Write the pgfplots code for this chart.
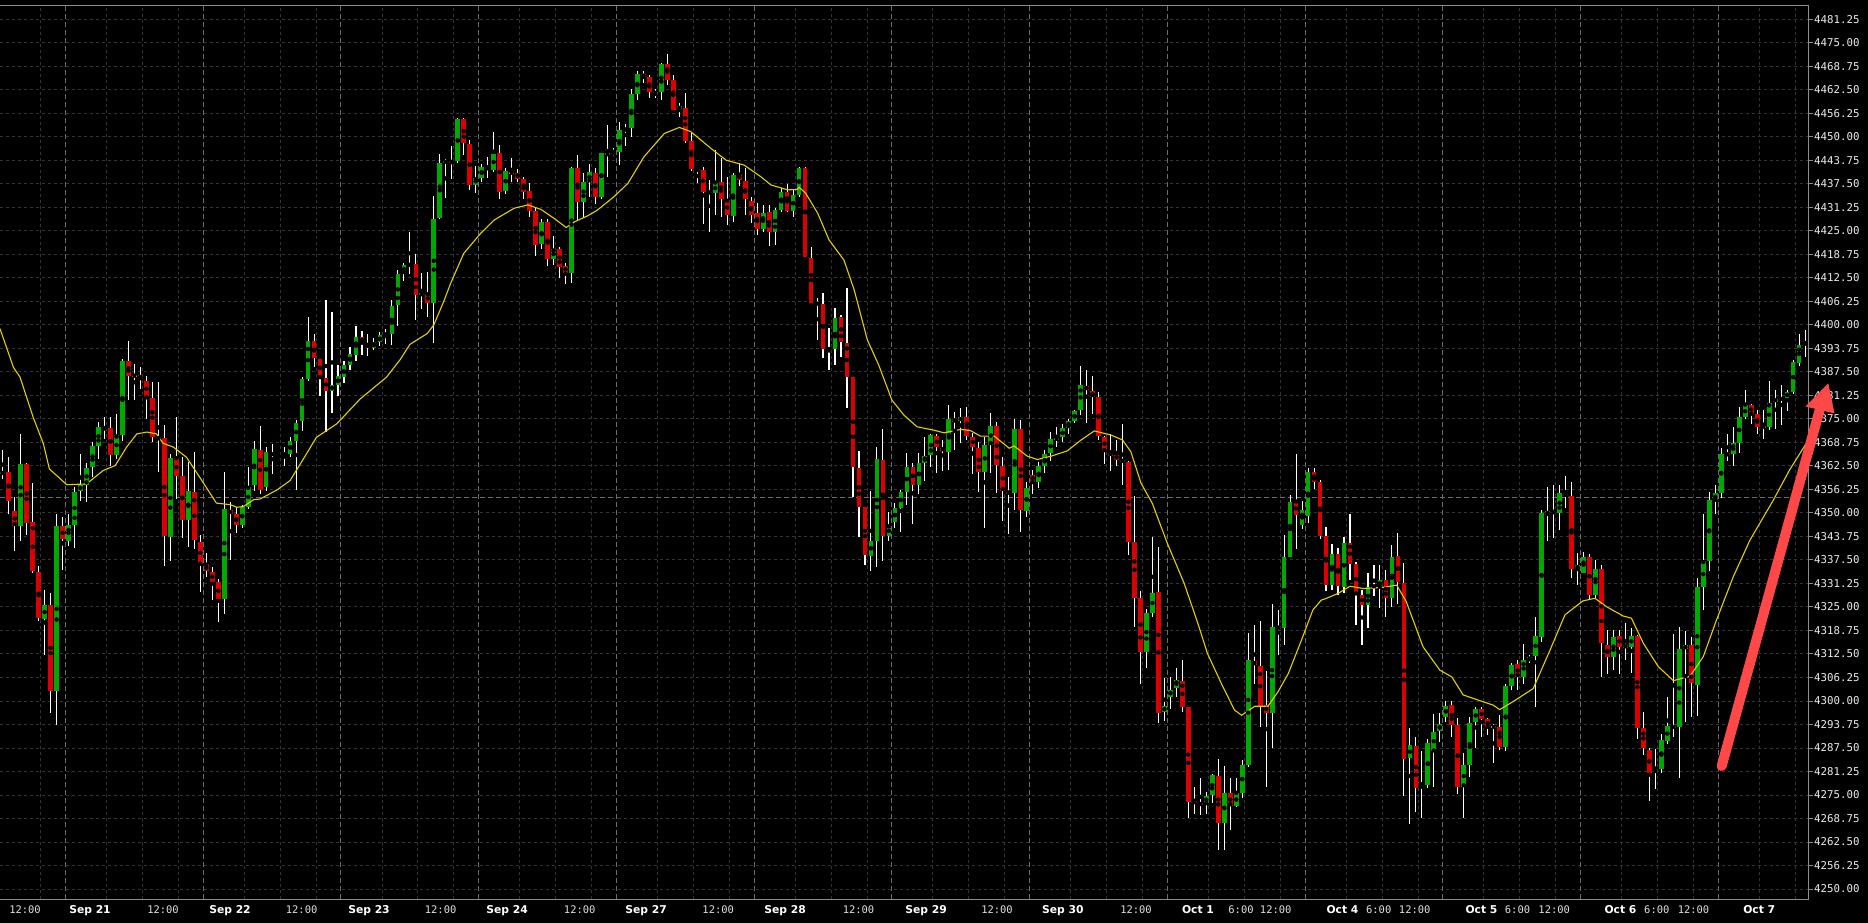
\documentclass[border=0pt]{standalone}
\usepackage{fontspec}
\setmainfont{DejaVu Sans}
\newfontfamily\monofont{DejaVu Sans Mono}
\usepackage{pgfplots}
\usepackage{pgfplotstable}
\pgfplotsset{compat=1.18}
\pgfdeclarelayer{bg}
\pgfsetlayers{bg,main}
\definecolor{upgreen}{RGB}{0,168,0}
\definecolor{downred}{RGB}{218,0,0}
\definecolor{dojiyellow}{RGB}{255,255,0}
\definecolor{maline}{RGB}{228,208,0}
\definecolor{gridd}{RGB}{52,52,52}
\definecolor{gridb}{RGB}{108,108,108}
\definecolor{framec}{RGB}{140,140,140}
\definecolor{labelc}{RGB}{236,236,236}
\definecolor{arrowred}{RGB}{255,72,72}

\pgfplotstableread{
i o h l c
0 4360.3 4366.8 4358.9 4361.0
1 4361.0 4364.8 4349.7 4353.1
2 4350.4 4354.3 4339.8 4346.6
3 4346.6 4371.0 4342.6 4362.9
4 4363.0 4363.4 4344.0 4347.3
5 4347.5 4357.9 4334.0 4334.5
6 4334.2 4335.8 4321.2 4322.0
7 4321.8 4329.5 4312.2 4325.5
8 4325.6 4328.7 4296.8 4302.6
9 4302.6 4349.7 4293.6 4346.4
10 4346.4 4349.0 4334.8 4343.0
11 4342.5 4349.6 4341.3 4346.9
12 4346.9 4356.8 4340.6 4355.7
13 4355.9 4365.7 4353.1 4357.4
14 4357.5 4363.3 4353.0 4361.9
15 4362.1 4368.8 4359.5 4367.9
16 4367.9 4374.1 4364.4 4372.8
17 4372.3 4375.4 4369.7 4372.7
18 4372.6 4375.4 4362.6 4365.5
19 4365.5 4376.2 4364.4 4370.6
20 4370.6 4391.0 4369.1 4390.5
21 4390.5 4395.7 4379.9 4386.5
22 4386.5 4389.6 4379.9 4386.5
23 4386.8 4388.7 4383.0 4385.5
24 4385.2 4386.5 4375.0 4380.8
25 4380.6 4384.7 4368.8 4370.1
26 4370.1 4384.7 4360.8 4369.6
27 4369.9 4373.5 4336.0 4343.8
28 4343.5 4365.7 4337.1 4364.5
29 4364.5 4375.4 4353.7 4359.8
30 4359.7 4364.8 4343.3 4348.1
31 4348.1 4363.5 4340.9 4355.7
32 4355.7 4366.3 4340.4 4342.8
33 4342.4 4344.1 4328.9 4336.4
34 4336.3 4339.4 4333.1 4334.5
35 4334.4 4335.5 4326.9 4331.6
36 4331.6 4332.4 4320.9 4327.0
37 4327.0 4360.8 4323.1 4351.1
38 4350.8 4352.8 4337.5 4349.7
39 4349.7 4351.5 4344.6 4346.9
40 4346.9 4352.2 4346.0 4351.5
41 4351.5 4362.3 4351.1 4357.0
42 4357.3 4369.2 4355.9 4367.0
43 4366.8 4373.0 4355.1 4356.2
44 4356.8 4367.5 4355.9 4366.3
45 4366.0 4368.2 4360.4 4365.3
46 4365.3 4366.0 4365.0 4365.6
47 4365.6 4367.5 4362.4 4365.6
48 4365.7 4370.1 4365.0 4369.0
49 4369.0 4374.7 4356.1 4374.0
50 4374.4 4386.1 4371.9 4385.6
51 4385.6 4402.0 4385.2 4395.6
52 4395.6 4397.6 4388.7 4391.2
53 4391.0 4391.0 4381.2 4386.1
54 4385.9 4406.6 4371.5 4382.4
55 4382.4 4403.5 4376.5 4384.1
56 4383.9 4389.2 4381.2 4386.3
57 4386.1 4390.5 4384.5 4389.2
58 4389.2 4394.0 4388.0 4392.3
59 4392.0 4399.8 4390.3 4396.9
60 4396.9 4398.5 4392.0 4395.1
61 4395.1 4397.6 4391.8 4393.8
62 4393.8 4396.5 4393.3 4395.4
63 4395.4 4398.0 4394.5 4397.2
64 4397.2 4399.0 4395.0 4397.7
65 4397.7 4406.6 4394.6 4405.0
66 4405.4 4414.6 4399.7 4413.5
67 4413.7 4416.4 4411.7 4415.9
68 4415.7 4424.6 4413.5 4416.2
69 4416.2 4418.8 4401.3 4408.0
70 4407.9 4413.9 4404.2 4408.4
71 4408.2 4414.1 4402.2 4405.9
72 4405.9 4434.3 4395.1 4428.2
73 4428.5 4445.4 4428.1 4443.0
74 4443.1 4444.1 4433.8 4443.6
75 4443.6 4447.7 4438.8 4443.1
76 4443.6 4454.9 4443.1 4454.7
77 4454.7 4454.9 4445.2 4448.3
78 4448.1 4449.2 4435.9 4437.2
79 4437.3 4442.3 4435.2 4439.1
80 4439.1 4442.8 4438.1 4442.1
81 4441.9 4444.7 4439.1 4441.4
82 4441.2 4451.4 4440.7 4445.4
83 4445.8 4447.8 4433.5 4435.4
84 4435.6 4441.6 4434.8 4440.9
85 4440.5 4444.3 4438.1 4440.5
86 4440.5 4441.4 4438.1 4438.8
87 4438.7 4439.2 4433.5 4435.4
88 4435.6 4437.6 4428.8 4430.3
89 4430.3 4431.0 4418.3 4421.2
90 4421.5 4428.1 4420.1 4427.3
91 4427.3 4428.1 4415.7 4417.5
92 4417.4 4423.6 4415.9 4420.3
93 4420.3 4420.8 4412.6 4415.5
94 4415.6 4416.4 4410.8 4413.9
95 4413.7 4442.1 4411.2 4441.8
96 4441.8 4445.2 4427.9 4432.8
97 4432.8 4440.3 4428.3 4438.0
98 4438.0 4442.9 4434.1 4440.6
99 4440.3 4441.6 4432.1 4433.9
100 4433.9 4445.6 4433.6 4445.6
101 4445.4 4453.1 4439.4 4445.4
102 4445.4 4447.1 4444.9 4445.8
103 4446.0 4454.0 4442.5 4451.8
104 4451.8 4453.4 4447.6 4452.1
105 4452.4 4462.6 4450.0 4461.4
106 4461.4 4467.6 4459.8 4466.7
107 4466.7 4467.6 4464.2 4465.8
108 4465.8 4466.4 4460.4 4462.0
109 4461.7 4462.6 4460.2 4461.7
110 4462.0 4469.6 4459.8 4469.4
111 4469.5 4472.0 4463.8 4465.1
112 4465.1 4466.4 4457.1 4457.1
113 4457.1 4458.9 4455.4 4458.3
114 4457.8 4461.7 4448.3 4448.9
115 4448.9 4450.9 4441.0 4441.4
116 4441.4 4441.6 4437.6 4441.0
117 4441.2 4442.1 4426.8 4435.4
118 4435.4 4438.5 4424.8 4435.0
119 4435.1 4446.5 4429.2 4437.6
120 4437.9 4444.5 4428.8 4433.5
121 4433.2 4439.4 4426.6 4429.2
122 4429.0 4440.3 4427.3 4439.8
123 4440.1 4443.0 4436.9 4438.5
124 4438.2 4441.6 4429.2 4433.4
125 4432.9 4434.1 4427.2 4429.2
126 4429.8 4432.5 4423.9 4425.5
127 4425.5 4431.9 4424.8 4429.8
128 4429.9 4431.9 4421.0 4424.8
129 4424.8 4431.0 4421.2 4430.5
130 4430.5 4436.5 4430.1 4435.2
131 4435.4 4437.4 4429.9 4430.3
132 4430.3 4435.9 4428.8 4434.5
133 4434.5 4442.1 4434.1 4441.8
134 4441.8 4442.1 4418.1 4418.1
135 4417.9 4420.8 4405.7 4405.9
136 4405.9 4407.1 4395.9 4405.4
137 4405.5 4408.4 4391.1 4393.5
138 4392.9 4399.1 4388.1 4393.5
139 4393.5 4404.6 4389.3 4401.7
140 4402.1 4402.6 4391.5 4395.5
141 4395.1 4409.7 4377.8 4386.2
142 4386.2 4386.2 4354.3 4362.3
143 4362.0 4366.5 4343.7 4351.6
144 4351.6 4351.6 4336.1 4338.8
145 4338.6 4355.9 4334.6 4342.6
146 4342.6 4367.6 4335.5 4364.3
147 4364.1 4372.3 4337.3 4343.9
148 4343.9 4350.3 4342.6 4346.5
149 4347.7 4352.7 4346.1 4351.2
150 4351.4 4356.1 4345.0 4355.5
151 4355.6 4366.0 4352.1 4362.3
152 4362.3 4363.4 4347.0 4357.4
153 4357.4 4365.8 4355.0 4363.2
154 4363.2 4370.3 4358.6 4365.1
155 4365.4 4371.0 4362.2 4370.7
156 4370.4 4371.1 4360.7 4367.4
157 4367.4 4369.4 4361.2 4366.5
158 4366.3 4378.7 4361.4 4375.1
159 4374.9 4376.9 4366.7 4374.3
160 4374.5 4377.8 4368.7 4375.4
161 4375.4 4378.1 4369.4 4370.4
162 4370.1 4371.3 4360.3 4367.6
163 4367.4 4368.9 4355.6 4360.9
164 4360.9 4370.3 4345.9 4368.1
165 4368.1 4376.5 4360.7 4373.1
166 4373.1 4374.3 4355.4 4362.7
167 4362.5 4364.9 4347.9 4355.9
168 4355.6 4359.5 4344.4 4355.2
169 4355.2 4374.9 4350.8 4372.2
170 4372.2 4374.7 4345.0 4350.9
171 4350.6 4358.3 4349.0 4356.5
172 4360.1 4361.4 4355.0 4358.3
173 4358.3 4363.6 4356.5 4362.5
174 4362.4 4366.7 4360.7 4365.8
175 4366.0 4371.6 4363.9 4369.6
176 4369.7 4372.9 4367.6 4369.7
177 4370.1 4373.6 4368.9 4372.5
178 4372.7 4375.1 4371.1 4374.5
179 4374.5 4377.5 4373.8 4377.1
180 4377.4 4389.1 4376.0 4384.0
181 4383.7 4388.0 4373.8 4382.7
182 4382.4 4386.4 4376.3 4380.7
183 4380.7 4382.2 4369.4 4370.4
184 4370.3 4370.4 4363.0 4366.5
185 4366.3 4371.0 4361.2 4365.1
186 4365.4 4369.4 4362.5 4364.1
187 4363.6 4373.6 4357.4 4364.1
188 4363.6 4363.9 4338.8 4342.3
189 4342.3 4354.5 4319.7 4327.5
190 4327.5 4329.3 4304.5 4313.1
191 4313.1 4324.5 4308.7 4323.5
192 4323.5 4343.6 4322.4 4328.6
193 4328.9 4341.0 4294.2 4296.9
194 4297.1 4306.0 4294.7 4298.6
195 4301.1 4306.3 4298.0 4303.0
196 4303.5 4308.7 4301.1 4305.6
197 4305.3 4311.0 4297.1 4298.5
198 4298.3 4298.3 4268.8 4273.2
199 4273.4 4277.0 4269.9 4272.8
200 4272.9 4279.4 4269.6 4272.3
201 4272.8 4275.8 4269.9 4274.7
202 4275.0 4280.7 4272.8 4280.3
203 4280.0 4284.7 4260.3 4267.6
204 4267.6 4282.7 4260.3 4275.6
205 4275.6 4279.4 4265.7 4272.0
206 4272.0 4279.4 4271.7 4275.6
207 4275.6 4284.3 4274.1 4282.9
208 4282.9 4318.1 4282.5 4310.9
209 4310.6 4320.2 4304.5 4309.5
210 4309.3 4321.3 4293.0 4298.6
211 4298.9 4308.0 4277.0 4296.9
212 4296.7 4325.9 4287.4 4319.7
213 4319.7 4324.2 4312.2 4319.3
214 4319.5 4344.1 4314.9 4338.4
215 4338.4 4354.7 4338.4 4353.0
216 4353.0 4365.8 4340.3 4349.4
217 4346.8 4353.2 4345.7 4350.8
218 4349.2 4361.9 4347.4 4361.0
219 4361.0 4361.9 4356.3 4358.3
220 4358.3 4358.7 4343.0 4343.9
221 4343.9 4346.3 4329.3 4330.8
222 4330.9 4341.7 4329.5 4339.0
223 4339.0 4340.6 4328.2 4330.6
224 4330.4 4343.5 4328.6 4341.9
225 4341.9 4349.7 4332.3 4336.4
226 4336.4 4337.0 4320.2 4328.4
227 4328.2 4329.5 4314.9 4325.5
228 4325.5 4334.1 4319.3 4330.4
229 4330.8 4336.1 4327.9 4330.2
230 4330.2 4336.1 4324.6 4332.3
231 4332.3 4334.8 4322.2 4327.3
232 4327.3 4341.5 4325.1 4338.2
233 4338.5 4344.6 4325.9 4331.7
234 4331.4 4336.6 4274.7 4284.7
235 4284.7 4292.7 4267.4 4288.3
236 4288.0 4290.3 4270.5 4276.8
237 4276.8 4286.8 4269.0 4277.6
238 4277.6 4290.0 4276.8 4288.9
239 4286.8 4296.5 4277.2 4291.8
240 4292.0 4296.7 4289.2 4294.0
241 4295.8 4300.1 4294.5 4298.6
242 4298.9 4300.1 4290.3 4293.6
243 4293.6 4295.6 4275.4 4277.2
244 4277.2 4286.2 4269.0 4282.9
245 4282.9 4295.8 4279.8 4294.2
246 4294.5 4298.3 4287.6 4297.8
247 4297.8 4298.5 4290.3 4295.3
248 4295.1 4295.4 4290.9 4293.1
249 4293.1 4294.0 4283.4 4293.1
250 4293.1 4296.2 4286.9 4287.8
251 4287.8 4304.5 4286.8 4303.9
252 4303.9 4310.2 4302.9 4309.5
253 4309.8 4310.9 4302.9 4306.4
254 4306.4 4315.1 4304.5 4310.9
255 4310.9 4312.2 4310.0 4311.6
256 4312.0 4322.2 4298.4 4317.3
257 4317.1 4350.8 4315.8 4349.9
258 4349.4 4357.0 4342.6 4350.5
259 4350.5 4357.4 4343.2 4349.9
260 4350.1 4357.4 4345.4 4355.2
261 4355.0 4359.8 4351.2 4354.6
262 4354.6 4358.3 4332.6 4335.0
263 4335.0 4339.4 4330.8 4336.1
264 4334.1 4339.7 4333.9 4338.4
265 4338.2 4339.2 4327.0 4328.2
266 4328.2 4337.5 4327.3 4335.0
267 4335.0 4336.1 4306.4 4315.3
268 4314.9 4318.9 4307.2 4311.8
269 4311.8 4318.9 4308.2 4317.1
270 4317.3 4318.9 4307.2 4314.4
271 4314.2 4320.8 4310.9 4314.9
272 4314.4 4319.3 4307.3 4317.3
273 4317.3 4317.5 4289.8 4292.7
274 4292.7 4297.1 4285.6 4287.4
275 4286.9 4287.4 4273.5 4280.9
276 4281.0 4287.3 4276.7 4281.8
277 4281.8 4291.2 4280.9 4289.6
278 4289.4 4301.1 4288.5 4293.3
279 4293.3 4317.8 4290.5 4292.9
280 4293.1 4319.7 4279.4 4313.7
281 4313.7 4318.7 4294.5 4314.9
282 4314.9 4317.1 4295.8 4304.7
283 4304.2 4332.6 4296.0 4330.2
284 4330.2 4349.7 4324.2 4337.3
285 4337.3 4355.6 4334.6 4353.4
286 4353.4 4357.4 4349.7 4355.2
287 4355.2 4367.4 4353.9 4365.8
288 4365.8 4371.1 4363.9 4365.4
289 4365.6 4372.9 4362.5 4368.5
290 4368.7 4378.2 4366.0 4375.4
291 4375.4 4382.7 4374.9 4378.7
292 4378.7 4379.1 4373.6 4376.3
293 4376.3 4377.5 4371.0 4372.9
294 4372.8 4377.4 4369.6 4373.1
295 4372.9 4385.2 4372.0 4379.3
296 4379.6 4382.7 4372.2 4380.4
297 4380.0 4384.0 4373.4 4380.6
298 4380.5 4382.7 4377.2 4382.2
299 4382.2 4390.7 4381.6 4390.0
300 4390.0 4397.7 4389.1 4394.6
301 4394.6 4398.6 4391.4 4395.8
}\candles

\pgfplotstableread{
i v
-0.45 4399.0
1.8 4388.7
2.9 4386.1
5.1 4375.4
6.8 4368.4
7.8 4361.7
10.7 4357.5
14.0 4357.7
16.8 4361.3
18.8 4362.6
20.7 4367.5
22.4 4371.0
24.1 4371.5
25.7 4371.0
26.8 4368.5
28.5 4367.5
30.7 4364.8
32.9 4359.5
35.7 4352.6
38.0 4352.2
39.1 4351.5
40.2 4351.7
41.9 4353.5
43.0 4353.7
45.8 4356.1
48.0 4358.6
49.7 4363.0
52.4 4370.1
55.8 4373.7
59.7 4380.3
64.1 4386.1
66.4 4390.8
68.0 4394.8
70.9 4397.7
72.0 4400.0
73.6 4406.0
74.8 4411.0
77.0 4419.0
79.8 4424.3
82.1 4427.9
85.4 4431.0
87.7 4431.9
89.9 4430.7
92.1 4428.3
94.1 4425.9
95.5 4427.4
97.7 4429.0
99.3 4430.5
102.1 4434.1
104.4 4437.6
107.1 4444.7
110.5 4450.9
113.0 4452.5
114.9 4451.4
118.3 4446.9
120.8 4443.8
123.8 4442.5
126.6 4439.4
128.3 4437.2
131.1 4435.9
132.7 4436.0
133.0 4436.6
134.1 4435.0
136.1 4429.7
138.0 4422.6
140.5 4417.2
142.2 4409.3
144.4 4396.0
146.3 4389.3
148.5 4380.0
150.5 4376.0
152.7 4372.9
155.5 4372.0
157.2 4371.3
160.0 4372.2
161.6 4371.9
163.3 4370.4
165.6 4370.4
168.1 4367.2
168.9 4367.8
171.1 4365.1
172.8 4364.2
175.1 4365.1
177.8 4366.5
180.1 4369.4
182.3 4371.8
185.1 4370.7
187.0 4369.4
188.4 4366.3
190.1 4357.9
192.0 4352.5
194.5 4341.9
197.3 4331.3
199.6 4320.6
201.2 4312.6
203.5 4304.7
205.7 4297.6
206.9 4296.2
209.1 4298.6
211.3 4298.6
213.0 4302.5
214.7 4307.3
216.9 4316.2
218.8 4324.2
220.2 4326.8
221.1 4327.3
223.0 4328.6
225.0 4330.5
227.2 4329.9
230.5 4330.2
232.8 4330.8
234.4 4326.4
237.2 4314.4
240.0 4308.2
242.0 4306.4
243.9 4301.6
246.1 4300.4
248.9 4298.9
250.0 4297.7
252.2 4299.8
255.6 4303.3
258.4 4313.5
260.9 4322.9
263.9 4326.6
265.9 4327.3
267.8 4325.1
270.6 4322.6
272.0 4322.0
274.0 4315.3
276.5 4309.1
279.0 4305.4
281.8 4306.6
284.0 4311.8
286.2 4321.5
289.0 4333.0
291.8 4342.8
295.7 4353.4
298.4 4361.4
301.2 4368.5
}\mavals

\begin{document}
\begin{tikzpicture}[x=1bp,y=1bp]
\begin{axis}[
  name=ax,
  scale only axis, width=1808bp, height=893bp,
  xmin=-0.446, xmax=301.49, ymin=4247.34, ymax=4484.79,
  enlargelimits=false,
  axis background/.style={fill=black},
  axis line style={framec, line width=1bp},
  xtick=\empty,
  ytick={4250,4256.25,4262.5,4268.75,4275,4281.25,4287.5,4293.75,4300,4306.25,4312.5,4318.75,4325,4331.25,4337.5,4343.75,4350,4356.25,4362.5,4368.75,4375,4381.25,4387.5,4393.75,4400,4406.25,4412.5,4418.75,4425,4431.25,4437.5,4443.75,4450,4456.25,4462.5,4468.75,4475,4481.25},
  scaled y ticks=false,
  yticklabel pos=right,
  ymajorgrids,
  major grid style={gridd, line width=0.9bp, dash pattern=on 3bp off 3bp},
  tick align=outside, major tick length=5bp,
  ytick style={framec, line width=0.9bp},
  yticklabel style={font=\monofont\fontsize{10.8}{12}\selectfont, text=labelc, anchor=west, inner sep=0pt, xshift=1bp,
    /pgf/number format/.cd, fixed, fixed zerofill, precision=2, 1000 sep={}, assume math mode=true},
]
% 6-hour grid lines
\pgfplotsinvokeforeach{6.35,17.35,23.35,29.35,40.35,46.35,52.35,63.35,69.35,75.35,86.35,92.35,98.35,109.35,115.35,121.35,132.35,138.35,144.35,155.35,161.35,167.35,178.35,184.35,190.35,201.35,207.35,213.35,224.35,230.35,236.35,247.35,253.35,259.35,270.35,276.35,282.35,293.35,299.35}{
  \draw[gridd, line width=0.9bp, dash pattern=on 3bp off 3bp] (axis cs:#1,4247.34) -- (axis cs:#1,4484.79);
}
% day separators
\pgfplotsinvokeforeach{10.5,33.5,56.5,79.5,102.5,125.5,148.5,171.5,194.5,217.5,240.5,263.5,286.5}{
  \draw[gridb, line width=1bp, dash pattern=on 5bp off 3bp] (axis cs:#1,4247.34) -- (axis cs:#1,4484.79);
}
\draw[gridb, line width=1bp, dash pattern=on 5bp off 3bp] (axis cs:-0.446,4354.1) -- (axis cs:301.49,4354.1);

% wicks
\addplot[only marks, mark=none, forget plot,
  error bars/.cd, y dir=both, y explicit, error mark=none,
  error bar style={draw=white, line width=1.1bp}]
  table[x=i, y expr={(\thisrow{h}+\thisrow{l})/2}, y error expr={(\thisrow{h}-\thisrow{l})/2}] {\candles};
% up bodies
\addplot[only marks, mark=none, forget plot,
  restrict expr to domain={\thisrow{c}-\thisrow{o}}{0.001:1000},
  error bars/.cd, y dir=both, y explicit, error mark=none,
  error bar style={draw=upgreen, line width=4.7bp}]
  table[x=i, y expr={(\thisrow{o}+\thisrow{c})/2}, y error expr={max(abs(\thisrow{c}-\thisrow{o})/2,0.24)}] {\candles};
% down bodies
\addplot[only marks, mark=none, forget plot,
  restrict expr to domain={\thisrow{c}-\thisrow{o}}{-1000:-0.001},
  error bars/.cd, y dir=both, y explicit, error mark=none,
  error bar style={draw=downred, line width=4.7bp}]
  table[x=i, y expr={(\thisrow{o}+\thisrow{c})/2}, y error expr={max(abs(\thisrow{c}-\thisrow{o})/2,0.24)}] {\candles};
% doji (open = close)
\addplot[only marks, mark=none, forget plot,
  restrict expr to domain={\thisrow{c}-\thisrow{o}}{-0.001:0.001},
  error bars/.cd, y dir=both, y explicit, error mark=none,
  error bar style={draw=dojiyellow, line width=4.7bp}]
  table[x=i, y expr={(\thisrow{o}+\thisrow{c})/2}, y error expr={0.28}] {\candles};
% moving average
\addplot[maline, line width=1.1bp, no marks] table[x=i, y=v] {\mavals};
\end{axis}

\begin{scope}[shift={(ax.south west)}]
\begin{pgfonlayer}{bg}
\fill[black] (0,-24) rectangle (1868,899);
\end{pgfonlayer}
% time axis labels
\foreach \px/\t in {25/12:00, 163/12:00, 301.6/12:00, 440.6/12:00, 579.7/12:00, 718.2/12:00, 858.5/12:00, 997/12:00, 1136/12:00, 1241/6:00, 1275.7/12:00, 1378.7/6:00, 1414.7/12:00, 1517.5/6:00, 1554.2/12:00, 1656.8/6:00, 1693.5/12:00}
  \node[anchor=base, inner sep=0pt, text={rgb,255:red,225;green,225;blue,225}, font=\monofont\fontsize{10.5}{12}\selectfont] at (\px,-14.3) {\t};
\foreach \px/\t in {90/Sep 21, 230/Sep 22, 369/Sep 23, 507/Sep 24, 646/Sep 27, 785/Sep 28, 926/Sep 29, 1062.8/Sep 30, 1198/Oct 1, 1342.5/Oct 4, 1481.5/Oct 5, 1620.5/Oct 6, 1759.2/Oct 7}
  \node[anchor=base, inner sep=0pt, text=white, font=\bfseries\fontsize{10.8}{12}\selectfont] at (\px,-14.3) {\t};
% annotation arrow
\draw[arrowred, line width=10bp, line cap=round] (1721.7,133) -- (1821,494);
\fill[arrowred] (1828.3,515.7) -- (1834.5,485.5) -- (1805.5,492.5) -- cycle;
\pgfresetboundingbox
\path[use as bounding box] (0,-24) rectangle (1868,899);
\end{scope}
\end{tikzpicture}
\end{document}
